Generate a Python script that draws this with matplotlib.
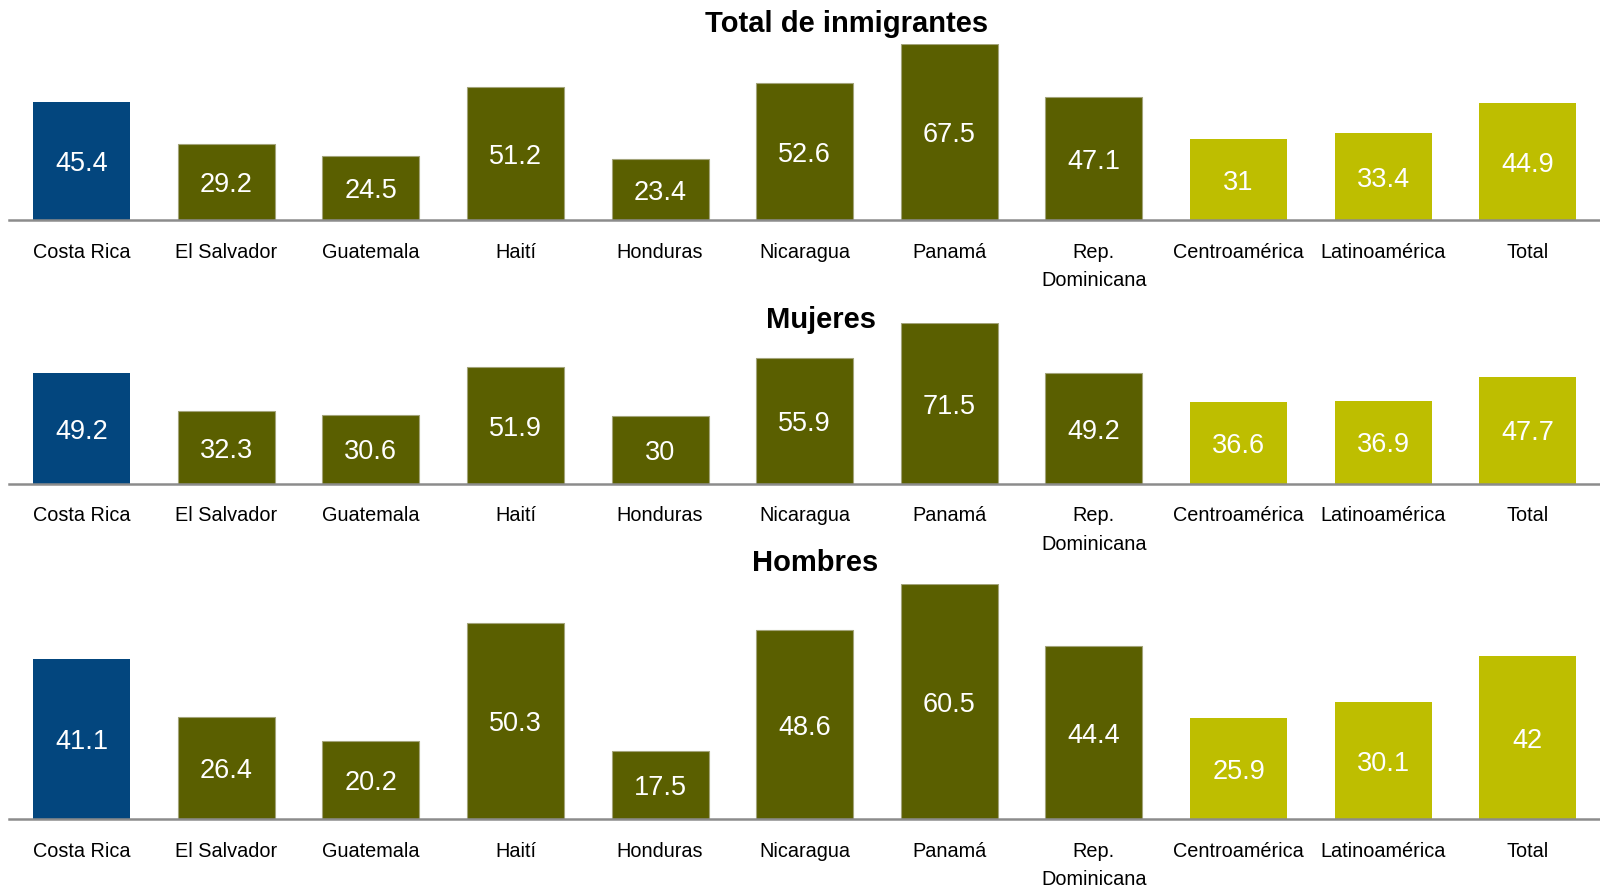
import matplotlib
matplotlib.use("Agg")
import matplotlib.pyplot as plt

categories = ["Costa Rica", "El Salvador", "Guatemala", "Haití", "Honduras",
              "Nicaragua", "Panamá", "Rep.\nDominicana", "Centroamérica",
              "Latinoamérica", "Total"]
total = [45.4, 29.2, 24.5, 51.2, 23.4, 52.6, 67.5, 47.1, 31, 33.4, 44.9]
mujeres = [49.2, 32.3, 30.6, 51.9, 30, 55.9, 71.5, 49.2, 36.6, 36.9, 47.7]
hombres = [41.1, 26.4, 20.2, 50.3, 17.5, 48.6, 60.5, 44.4, 25.9, 30.1, 42]
titles = ["Total de inmigrantes", "Mujeres", "Hombres"]

BLUE = "#03467E"
DARK = "#5A5F00"
LIGHT = "#BEBE00"
colors = [BLUE] + [DARK] * 7 + [LIGHT] * 3

W, H = 1600, 893
fig = plt.figure(figsize=(W / 100, H / 100), dpi=100)

# (bottom px, top px) for each panel, title (x px, y px)
panels = [
    (total, 220.4, 43.9, (847, 24.5)),
    (mujeres, 483.7, 323.5, (821, 320.5)),
    (hombres, 819.4, 583.7, (815, 563)),
]

tick_font = ["Liberation Sans", "DejaVu Sans"]
val_font = ["Liberation Sans", "DejaVu Sans"]

for (vals, base, top, (tx, ty)), title in zip(panels, titles):
    left = 9.4 / W
    ax = fig.add_axes([left, 1 - base / H, 1 - left, (base - top) / H])
    x = list(range(len(categories)))
    edges = ["#a3a47a" if c == DARK else "none" for c in colors]
    ax.bar(x, vals, width=0.67, color=colors, edgecolor=edges, linewidth=0.8, zorder=2)
    ax.set_xlim(-0.5, 10.5)
    ax.set_ylim(0, max(vals))
    for xi, v in zip(x, vals):
        ax.annotate(f"{v:g}", xy=(xi, v / 2), xytext=(0, -2.2),
                    textcoords="offset points", ha="center", va="center",
                    color="white", fontsize=19.5, family=val_font, zorder=3)
    ax.set_xticks(x)
    ax.set_xticklabels(categories, fontsize=14.3, family=tick_font, color="black",
                       linespacing=1.65, va="top")
    ax.tick_params(axis="x", length=0, pad=16)
    ax.set_yticks([])
    for s in ["top", "left", "right"]:
        ax.spines[s].set_visible(False)
    ax.spines["bottom"].set_color("#8c8c8c")
    ax.spines["bottom"].set_linewidth(1.8)
    ax.spines["bottom"].set_zorder(4)
    ax.patch.set_alpha(0)
    fig.text(tx / W, 1 - ty / H, title, ha="center", va="center",
             fontsize=21, fontweight="bold", family=val_font, color="black")

fig.savefig("out.png", dpi=100)
